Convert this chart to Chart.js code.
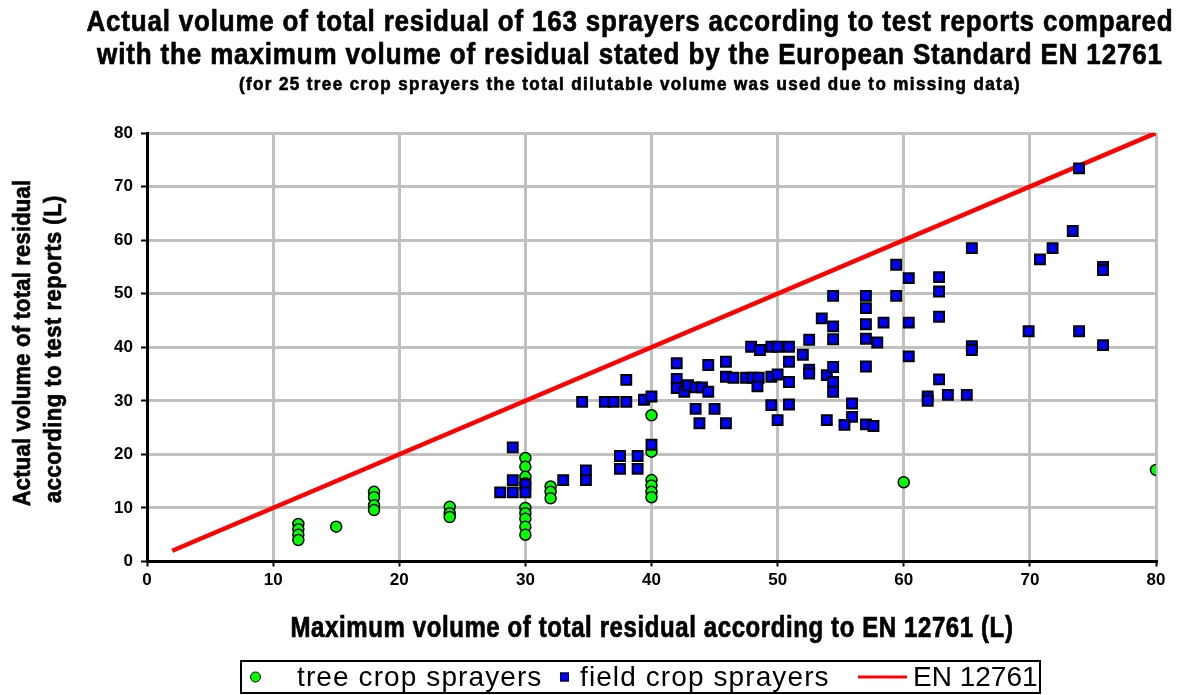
<!DOCTYPE html>
<html>
<head>
<meta charset="utf-8">
<script src="https://cdn.jsdelivr.net/npm/chart.js@4.4.1/dist/chart.umd.min.js"></script>
<style>
    body { margin: 0; background: #fff; }
    #wrap { position: relative; width: 1179px; height: 695px; overflow: hidden; font-family: "Liberation Sans", Arial, sans-serif; }
    #chart { position: absolute; left: 0; top: 0; }
    .t { position: absolute; white-space: nowrap; font-weight: bold; color: #000; -webkit-text-stroke: 0.6px #000; }
    .legend { position: absolute; left: 240px; top: 660px; width: 797px; height: 30px; border: 2px solid #000; }
    .lg { position: absolute; top: 50%; transform: translateY(-50%); font-size: 28px; white-space: nowrap; color: #000; }
    .mk { position: absolute; top: 50%; transform: translateY(-50%); box-sizing: border-box; }
</style>
</head>
<body>
<div id="wrap">
    <canvas id="chart" width="1179" height="695"></canvas>

    <div class="t" style="left:630px; top:22px; font-size:26px; letter-spacing:0.8px; transform:translate(-50%,-50%) scaleY(1.1);">Actual volume of total residual of 163 sprayers according to test reports compared</div>
    <div class="t" style="left:630px; top:55px; font-size:26px; letter-spacing:0.85px; transform:translate(-50%,-50%) scaleY(1.1);">with the maximum volume of residual stated by the European Standard EN 12761</div>
    <div class="t" style="left:630px; top:85px; font-size:17px; letter-spacing:1.4px; transform:translate(-50%,-50%) scaleY(1.05);">(for 25 tree crop sprayers the total dilutable volume was used due to missing data)</div>

    <div class="t" style="left:22px; top:343px; font-size:22px; letter-spacing:0.2px; transform:translate(-50%,-50%) rotate(-90deg) scaleY(1.1);">Actual volume of total residual</div>
    <div class="t" style="left:53px; top:349px; font-size:22px; letter-spacing:0.5px; transform:translate(-50%,-50%) rotate(-90deg) scaleY(1.1);">according to test reports (L)</div>

    <div class="t" style="left:652px; top:627px; font-size:24px; letter-spacing:0.6px; transform:translate(-50%,-50%) scaleY(1.2);">Maximum volume of total residual according to EN 12761 (L)</div>

    <div class="legend">
        <div class="mk" style="left:8px; width:11px; height:11px; border-radius:50%; background:#00ff00; border:1.5px solid #000;"></div>
        <div class="lg" style="left:55px; letter-spacing:1.1px;">tree crop sprayers</div>
        <div class="mk" style="left:318px; width:9px; height:9px; background:#0000ff; border:1.5px solid #000;"></div>
        <div class="lg" style="left:338px; letter-spacing:1.1px;">field crop sprayers</div>
        <div class="mk" style="left:616px; width:49px; height:3px; background:#ff0000;"></div>
        <div class="lg" style="left:671px;">EN 12761</div>
    </div>
</div>

<script>
// tree crop sprayers (green circles)
const treeX = [12, 12, 12, 12, 15, 18, 18, 18, 18, 24, 24, 24,
    30, 30, 30, 30, 30, 30, 30, 30, 30, 32, 32, 32,
    40, 40, 40, 40, 40, 40, 60, 80];
const treeY = [7, 6, 5, 4, 6.5, 13, 12, 10.5, 9.6, 10.2, 9, 8.3,
    19.3, 17.7, 15.8, 14.6, 10, 9, 8, 6.5, 5, 14, 13, 11.8,
    27.3, 20.5, 15.2, 14.2, 13, 12, 14.8, 17.1];

// field crop sprayers (blue squares)
const fieldX = [28, 29, 29, 29, 30, 30, 33, 34.8, 34.8, 37.5, 37.5, 38.9, 38.9, 40,
    34.5, 36.3, 37, 38, 38, 39.4, 40, 42, 42, 42, 42.6, 42.9, 43.5, 44, 44.5, 44.5,
    45.9, 43.5, 45, 43.8, 45.9, 45.9, 46.5, 47.5, 48, 48.5, 48.4, 49.5, 50,
    47.9, 48.6, 49.5, 50, 49.5, 50, 50.9, 50.9, 50.9, 50.9, 52, 52.5, 52.5, 52.5,
    53.9, 54.4, 54.4, 54.4, 53.5, 54.4, 54.4, 54.4, 53.9, 55.9, 55.9, 55.3, 57, 57.6,
    57, 57, 57, 57, 57.9, 58.4, 57, 59.4, 59.4, 60.4, 60.4, 60.4,
    62.8, 62.8, 62.8, 62.8, 61.9, 61.9, 63.5, 65, 65.4, 65.4, 65.4,
    69.9, 70.8, 71.8, 73.4, 73.9, 73.9, 75.8, 75.8, 75.8];
const fieldY = [12.9, 12.9, 15.2, 21.3, 14.4, 12.9, 15.2, 17, 15.2, 19.7, 17.3, 19.7, 17.3, 21.8,
    29.8, 29.8, 29.8, 33.9, 29.8, 30.2, 30.8, 37, 34.1, 32.4, 31.7, 32.9, 32.5, 32.5, 31.7, 36.7,
    37.3, 28.5, 28.5, 25.8, 25.8, 34.5, 34.3, 34.3, 34.3, 34.3, 32.7, 34.5, 34.9,
    40.1, 39.5, 40.1, 40.1, 29.2, 26.4, 29.3, 33.5, 37.3, 40.1, 38.6, 41.4, 35.8, 35.1,
    34.8, 36.3, 33.5, 31.7, 45.4, 43.9, 41.5, 49.6, 26.4, 29.5, 27, 25.5, 25.6, 25.3,
    49.6, 47.3, 44.3, 41.6, 40.9, 44.6, 36.4, 55.4, 49.6, 52.9, 44.6, 38.3,
    53.1, 50.4, 45.7, 34, 30.8, 30, 31.1, 31.1, 58.5, 40.2, 39.5,
    43, 56.4, 58.5, 61.7, 73.4, 43, 55, 54.4, 40.4];

// EN 12761 maximum (line)
const enX = [2, 80];
const enY = [2, 80];

const axisTicks = [0, 10, 20, 30, 40, 50, 60, 70, 80];

const toPoints = (xs, ys) => xs.map((x, i) => ({ x: x, y: ys[i] }));

const gridColor = ctx => ctx.tick && ctx.tick.value === 0 ? "rgba(0,0,0,0)" : "#c0c0c0";

new Chart(document.getElementById("chart"), {
    type: "scatter",

    data: {
        datasets: [{
            label: "tree crop sprayers",
            data: toPoints(treeX, treeY),
            pointStyle: "circle",
            pointRadius: 5.5,
            pointBackgroundColor: "#00ff00",
            pointBorderColor: "#000",
            pointBorderWidth: 1.5,
            order: 1
        }, {
            label: "field crop sprayers",
            data: toPoints(fieldX, fieldY),
            pointStyle: "rect",
            pointRadius: 7,
            pointBackgroundColor: "#0000ff",
            pointBorderColor: "#000",
            pointBorderWidth: 2,
            order: 0
        }, {
            label: "EN 12761",
            type: "line",
            data: toPoints(enX, enY),
            borderColor: "#ff0000",
            borderWidth: 4.5,
            pointRadius: 0,
            fill: false,
            order: 2
        }]
    },

    options: {
        responsive: false,
        animation: false,
        devicePixelRatio: 1,

        layout: {
            padding: { left: 87, right: 23, top: 133, bottom: 93.5 }
        },

        plugins: {
            legend: { display: false },
            tooltip: { enabled: false }
        },

        scales: {
            x: {
                type: "linear",
                min: 0,
                max: 80,
                afterFit: scale => { scale.height = 40; },
                afterBuildTicks: scale => { scale.ticks = axisTicks.map(v => ({ value: v })); },
                ticks: {
                    color: "#000",
                    padding: 4,
                    font: { family: "Liberation Sans, Arial", size: 17, weight: "bold" }
                },
                grid: {
                    color: gridColor,
                    lineWidth: 3,
                    tickColor: "#000",
                    tickLength: 5,
                    tickWidth: 2
                },
                border: { color: "#000", width: 3 }
            },

            y: {
                type: "linear",
                min: 0,
                max: 80,
                afterFit: scale => { scale.width = 60; },
                afterBuildTicks: scale => { scale.ticks = axisTicks.map(v => ({ value: v })); },
                ticks: {
                    color: "#000",
                    padding: 8,
                    font: { family: "Liberation Sans, Arial", size: 17, weight: "bold" }
                },
                grid: {
                    color: gridColor,
                    lineWidth: 3,
                    tickColor: "#000",
                    tickLength: 6,
                    tickWidth: 2
                },
                border: { color: "#000", width: 3 }
            }
        }
    }
});
</script>
</body>
</html>
